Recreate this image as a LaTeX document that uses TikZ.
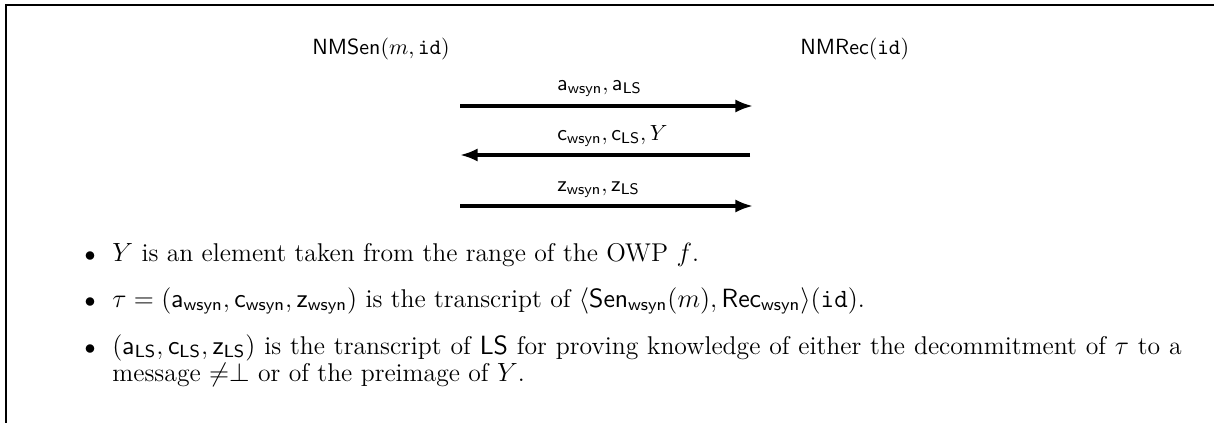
\documentclass[tikz,border=0pt]{standalone}
\usepackage{amsmath}
\usepackage{xcolor}
\usetikzlibrary{arrows.meta}
\newcommand{\pn}{\mathsf}
\newcommand{\remark}[1]{\parbox[t]{487pt}{\fontsize{11.7}{12.6}\selectfont\hyphenpenalty=10000 #1}}

\begin{document}
\begin{tikzpicture}[x = 0.016cm, y = -0.016cm,
    msg/.style = {line width = 1.5pt, -{Latex[length = 8pt, width = 6pt]}},
    lbl/.style = {anchor = base west, inner sep = 0pt},
    dot/.style = {anchor = base, inner sep = 0pt}]

    \useasboundingbox (0,0) rectangle (1214,423);

    % frame
    \draw[line width = 0.5pt] (6,423) -- (6,5) -- (1214,5);

    \node[lbl] (sen) at (312,55) {$\pn{NMSen}(m, \mathtt{id})$};
    \node[lbl] (rec) at (800,55) {$\pn{NMRec}(\mathtt{id})$};

    \coordinate (s1) at (460,106);
    \coordinate (r1) at (753,106);
    \coordinate (s2) at (460,155);
    \coordinate (r2) at (750,155);
    \coordinate (s3) at (460,206);
    \coordinate (r3) at (753,206);

    % messages
    \draw[msg] (s1) -- (r1);
    \draw[msg] (r2) -- (s2);
    \draw[msg] (s3) -- (r3);

    \node[lbl] (ma) at (557,90) {$\pn{a}_{\pn{wsyn}}, \pn{a}_{\pn{LS}}$};
    \node[lbl] (mc) at (557,140) {$\pn{c}_{\pn{wsyn}}, \pn{c}_{\pn{LS}}, Y$};
    \node[lbl] (mz) at (557,191) {$\pn{z}_{\pn{wsyn}}, \pn{z}_{\pn{LS}}$};

    % remarks
    \node[dot] (b1) at (90,261) {$\bullet$};
    \node[dot] (b2) at (90,307) {$\bullet$};
    \node[dot] (b3) at (90,354) {$\bullet$};

    \node[lbl] (it1) at (112,261) {\remark{$Y$ is an element taken from the range of the OWP $f$.}};
    \node[lbl] (it2) at (112,307) {\remark{$\tau = (\pn{a}_{\pn{wsyn}}, \pn{c}_{\pn{wsyn}}, \pn{z}_{\pn{wsyn}})$ is the transcript of $\langle \pn{Sen}_{\pn{wsyn}}(m), \pn{Rec}_{\pn{wsyn}} \rangle(\mathtt{id})$.}};
    \node[lbl] (it3) at (112,354) {\remark{$(\pn{a}_{\pn{LS}}, \pn{c}_{\pn{LS}}, \pn{z}_{\pn{LS}})$ is the transcript of $\pn{LS}$ for proving knowledge of either the decommitment of $\tau$ to a message $\neq\perp$ or of the preimage of $Y$.}};

\end{tikzpicture}
\end{document}
